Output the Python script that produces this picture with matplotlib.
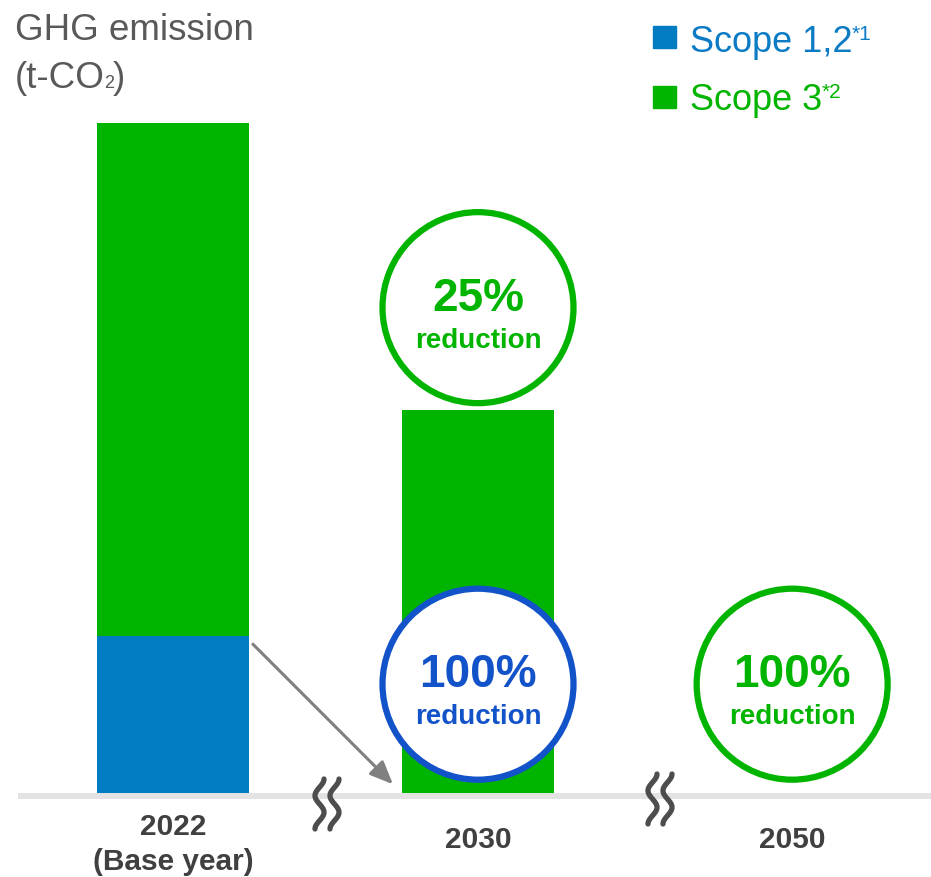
import numpy as np
import matplotlib
matplotlib.use('Agg')
import matplotlib.pyplot as plt
from matplotlib.patches import Ellipse, Rectangle

plt.rcParams['font.family'] = ['Liberation Sans', 'DejaVu Sans']

# emissions, relative (2022 scope 3 = 100)
years = ['2022', '2030', '2050']
year_notes = ['(Base year)', '', '']
scope12 = [31, 0, 0]
scope3 = [100, 75, 0]

# reduction targets shown in circles
target_year = [1, 1, 2]
target_pct = ['25%', '100%', '100%']
target_scope = ['3', '1,2', '3']

GREEN = '#00B400'
BLUE = '#007CC3'
RING_BLUE = '#1353C9'
GRAY_TXT = '#404040'

W, H = 931, 878
X0, XS = 173, 305.0      # pixel of first category, pixels per category step
Y0, YS = 796, 5.13       # baseline pixel, pixels per unit
xpos = [0, 1, 2.03]
circle_cy = [95, 21.6, 21.6]

fig = plt.figure(figsize=(W / 100, H / 100), dpi=100)
ax = fig.add_axes([0, 0, 1, 1])
ax.axis('off')
ax.set_xlim(-X0 / XS, (W - X0) / XS)
ax.set_ylim(-(H - Y0) / YS, Y0 / YS)


def fy(y):
    return 1 - y / H


ax.bar(xpos, scope12, width=0.5, color=BLUE, zorder=2)
ax.bar(xpos, scope3, bottom=scope12, width=0.5, color=GREEN, zorder=2)
ax.axhline(-0.2, xmin=21 / W, xmax=1, color='#E3E3E3', lw=4.3, zorder=3)

# circles
r = 191
for i, pct, sc, cy in zip(target_year, target_pct, target_scope, circle_cy):
    c = RING_BLUE if sc == '1,2' else GREEN
    ax.add_patch(Ellipse((xpos[i], cy), r / XS, r / YS, facecolor='white',
                         edgecolor=c, lw=4.5, zorder=4))
    ax.annotate(pct, xy=(xpos[i], cy), xytext=(0, -2), textcoords='offset pixels',
                ha='center', va='baseline', fontsize=33, fontweight='bold',
                color=c, zorder=5)
    ax.annotate('reduction', xy=(xpos[i], cy), xytext=(0, -39),
                textcoords='offset pixels', ha='center', va='baseline',
                fontsize=20, fontweight='bold', color=c, zorder=5)

# year labels
for x, yr, note in zip(xpos, years, year_notes):
    off = -39 if note else -52
    ax.annotate(yr, xy=(x, 0), xytext=(0, off), textcoords='offset pixels',
                ha='center', va='baseline', fontsize=21.5, fontweight='bold',
                color=GRAY_TXT)
    if note:
        ax.annotate(note, xy=(x, 0), xytext=(0, -74), textcoords='offset pixels',
                    ha='center', va='baseline', fontsize=21.5, fontweight='bold',
                    color=GRAY_TXT)

# arrow from scope 1,2 block
ax.annotate('', xy=(0.721, 2.1), xytext=(0.262, scope12[0] - 1.6),
            arrowprops=dict(arrowstyle='-|>,head_length=0.7,head_width=0.3',
                            color='#808080', lw=2.2, mutation_scale=20,
                            shrinkA=0, shrinkB=0), zorder=3)


# axis break marks
def squiggle(xc, yc):
    t = np.linspace(0, 1, 80)
    for dx in (-7.5, 7.5):
        xs = xc + dx + 4.5 * np.cos(3 * np.pi * t)
        ys = yc - 25 + 50 * t
        fig.add_artist(plt.Line2D(xs / W, fy(ys), color='#4D4D4D', lw=3.8,
                                  solid_capstyle='round', zorder=6))


squiggle(327, 805)
squiggle(660, 800)

renderer = fig.canvas.get_renderer()


def runs(x, y, parts):
    cur = x
    for s, size, dy, color in parts:
        t = fig.text(cur / W, fy(y + dy), s, fontsize=size, color=color,
                     va='baseline')
        cur = t.get_window_extent(renderer).x1 - 1


# title
fig.text(15 / W, fy(40), 'GHG emission', fontsize=26.5, color='#595959',
         va='baseline')
runs(15, 88, [('(t-CO', 26.5, 0, '#595959'), ('2', 13, 0, '#595959'),
              (')', 26.5, 0, '#595959')])

# legend
fig.add_artist(Rectangle((653 / W, fy(49)), 23 / W, 22 / H,
                         transform=fig.transFigure, color=BLUE))
fig.add_artist(Rectangle((653 / W, fy(109)), 23 / W, 22 / H,
                         transform=fig.transFigure, color=GREEN))
runs(690, 52, [('Scope 1,2', 26, 0, '#0A7BC4'), ('*1', 15, -12, '#0A7BC4')])
runs(690, 110, [('Scope 3', 26, 0, GREEN), ('*2', 15, -12, GREEN)])

fig.savefig('out.png', dpi=100)
